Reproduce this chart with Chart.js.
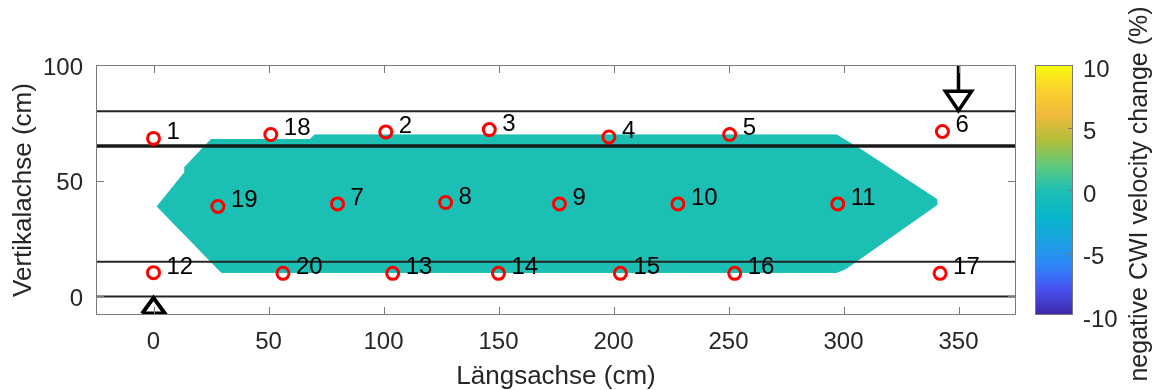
<!DOCTYPE html>
<html>
<head>
<meta charset="utf-8">
<script src="https://cdn.jsdelivr.net/npm/chart.js@4.4.1/dist/chart.umd.min.js"></script>
<style>
  html, body { margin: 0; padding: 0; background: #fff; }
  canvas { display: block; }
</style>
</head>
<body>
<canvas id="cwi" width="1154" height="390"></canvas>
<script>
// Sensorpositionen (cm), Nummer 1..20
const sensorLabels = ['1', '2', '3', '4', '5', '6', '7', '8', '9', '10',
                      '11', '12', '13', '14', '15', '16', '17', '18', '19', '20']
const sensorX = [0, 101, 146, 198, 250.5, 343, 80, 127, 176.5, 228,
                 297.5, 0, 104, 150, 203, 252.7, 342, 51, 28, 56.3]
const sensorY = [68.3, 71.1, 72.1, 68.9, 70, 71.3, 40, 40.6, 40, 40,
                 40, 10.3, 10, 10, 10, 10, 10, 70, 38.9, 10]

// horizontale Linien (cm)
const layerY = [80, 65, 15, 0]

// Bereich der CWI-Auswertung (Wert ~ 0 %)
const regionX = [1.6, 13.6, 13.6, 25, 68, 70, 297, 308, 340.5, 340.5, 301, 297, 29.5, 1.6]
const regionY = [38.9, 53.7, 55.9, 67.8, 67.8, 69.8, 69.8, 63.2, 42, 39.5, 12, 10.4, 10.4, 38.9]

// Auflager unten und Last oben
const supportX = [-5, 0, 5, -5]
const supportY = [-7.4, -0.6, -7.4, -7.4]
const loadX = [350, 350, 344.3, 350, 355.7, 350]
const loadY = [100, 88.7, 88.7, 80.3, 88.7, 88.7]

const xMin = -25, xMax = 375, yMin = -8, yMax = 100
const xTicks = [0, 50, 100, 150, 200, 250, 300, 350]
const yTicks = [0, 50, 100]
const cbMin = -10, cbMax = 10
const cbTicks = [-10, -5, 0, 5, 10]

const regionColor = 'rgb(27,191,180)'
const parula = ['#3e26a8', '#4850f0', '#2e87f7', '#19a3e0', '#07b6c8', '#1fbfb2',
                '#62c97a', '#b2bf3a', '#f2b93c', '#f9d22e', '#f9fb0e']
const fontFamily = '"Liberation Sans", Arial, Helvetica, sans-serif'

const toPoints = (xs, ys) => xs.map((x, i) => ({x: x, y: ys[i]}))

const frame = {
    id: 'frame',
    afterDatasetsDraw(chart) {
        const {ctx, chartArea: a, scales: {x, y}} = chart
        ctx.save()
        // Sensornummern
        ctx.font = '24px ' + fontFamily
        ctx.fillStyle = '#000'
        ctx.textBaseline = 'alphabetic'
        ctx.textAlign = 'left'
        chart.getDatasetMeta(0).data.forEach((p, i) => {
            ctx.fillText(sensorLabels[i], p.x + 13, p.y + 1)
        })
        // Rahmen mit Ticks innen
        ctx.strokeStyle = '#7a7a7a'
        ctx.lineWidth = 1
        ctx.strokeRect(a.left + 0.5, a.top + 0.5, a.width - 1, a.height - 1)
        ctx.beginPath()
        xTicks.forEach(v => {
            const px = Math.round(x.getPixelForValue(v)) + 0.5
            ctx.moveTo(px, a.bottom); ctx.lineTo(px, a.bottom - 8)
            ctx.moveTo(px, a.top); ctx.lineTo(px, a.top + 8)
        })
        yTicks.forEach(v => {
            const py = Math.round(y.getPixelForValue(v)) + 0.5
            ctx.moveTo(a.left, py); ctx.lineTo(a.left + 8, py)
            ctx.moveTo(a.right, py); ctx.lineTo(a.right - 8, py)
        })
        ctx.stroke()
        ctx.restore()
    },
    afterDraw(chart) {
        const {ctx, chartArea: a} = chart
        const left = a.right + 19, w = 38
        ctx.save()
        const g = ctx.createLinearGradient(0, a.bottom, 0, a.top)
        parula.forEach((c, i) => g.addColorStop(i / (parula.length - 1), c))
        ctx.fillStyle = g
        ctx.fillRect(left, a.top, w, a.height)
        ctx.strokeStyle = '#7a7a7a'
        ctx.lineWidth = 1
        ctx.strokeRect(left + 0.5, a.top + 0.5, w - 1, a.height - 1)
        ctx.font = '24px ' + fontFamily
        ctx.fillStyle = '#262626'
        ctx.textAlign = 'left'
        ctx.textBaseline = 'middle'
        cbTicks.forEach(v => {
            const py = a.bottom - (v - cbMin) / (cbMax - cbMin) * a.height
            if (v > cbMin && v < cbMax) {
                ctx.beginPath()
                ctx.moveTo(left + w, Math.round(py) + 0.5)
                ctx.lineTo(left + w - 5, Math.round(py) + 0.5)
                ctx.stroke()
            }
            ctx.fillText(String(v), left + w + 10, py + 5)
        })
        ctx.font = '25px ' + fontFamily
        ctx.translate(1140, (a.top + a.bottom) / 2 + 4)
        ctx.rotate(-Math.PI / 2)
        ctx.textAlign = 'center'
        ctx.fillText('negative CWI velocity change (%)', 0, 0)
        ctx.restore()
    }
}

const datasets = [
    {
        label: 'Sensoren',
        data: toPoints(sensorX, sensorY),
        showLine: false,
        pointRadius: 6,
        pointBorderWidth: 3,
        pointBorderColor: '#ff0000',
        pointBackgroundColor: 'rgba(0,0,0,0)',
        order: 1
    },
    {
        label: 'Auflager',
        data: toPoints(supportX, supportY),
        showLine: true,
        borderColor: '#000',
        borderWidth: 4,
        borderJoinStyle: 'miter',
        pointRadius: 0,
        order: 2
    },
    {
        label: 'Last',
        data: toPoints(loadX, loadY),
        showLine: true,
        borderColor: '#000',
        borderWidth: 3.5,
        borderJoinStyle: 'miter',
        pointRadius: 0,
        order: 2
    },
    ...layerY.map((v, i) => ({
        label: 'Linie ' + v,
        data: [{x: xMin, y: v}, {x: xMax, y: v}],
        showLine: true,
        borderColor: i === 1 ? '#1a1a1a' : '#262626',
        borderWidth: i === 1 ? 3.5 : 2,
        pointRadius: 0,
        order: 3
    })),
    {
        label: 'CWI',
        data: toPoints(regionX, regionY),
        showLine: true,
        fill: 'shape',
        backgroundColor: regionColor,
        borderColor: regionColor,
        borderWidth: 1,
        pointRadius: 0,
        order: 4
    }
]

const chart = new Chart(document.getElementById('cwi').getContext('2d'), {
    type: 'scatter',
    data: {datasets: datasets},
    options: {
        responsive: false,
        animation: false,
        devicePixelRatio: 1,
        layout: {padding: {top: 65, right: 138, bottom: 0, left: 0}},
        plugins: {legend: {display: false}, tooltip: {enabled: false}},
        scales: {
            x: {
                type: 'linear',
                min: xMin,
                max: xMax,
                afterBuildTicks: scale => { scale.ticks = xTicks.map(v => ({value: v})) },
                afterFit: scale => { scale.height = 75 },
                grid: {display: false, drawTicks: false},
                border: {display: false},
                ticks: {padding: 13, maxRotation: 0, color: '#262626', font: {size: 24, family: fontFamily}},
                title: {
                    display: true,
                    text: 'Längsachse (cm)',
                    color: '#262626',
                    font: {size: 26, family: fontFamily, lineHeight: 1},
                    padding: {top: 0, bottom: 0}
                }
            },
            y: {
                type: 'linear',
                min: yMin,
                max: yMax,
                afterBuildTicks: scale => { scale.ticks = yTicks.map(v => ({value: v})) },
                afterFit: scale => { scale.width = 96 },
                grid: {display: false, drawTicks: false},
                border: {display: false},
                ticks: {padding: 13, labelOffset: 3, color: '#262626', font: {size: 24, family: fontFamily}},
                title: {
                    display: true,
                    text: 'Vertikalachse (cm)',
                    color: '#262626',
                    font: {size: 26, family: fontFamily, lineHeight: 1},
                    padding: {top: 11, bottom: 0}
                }
            }
        }
    },
    plugins: [frame]
})
</script>
</body>
</html>
